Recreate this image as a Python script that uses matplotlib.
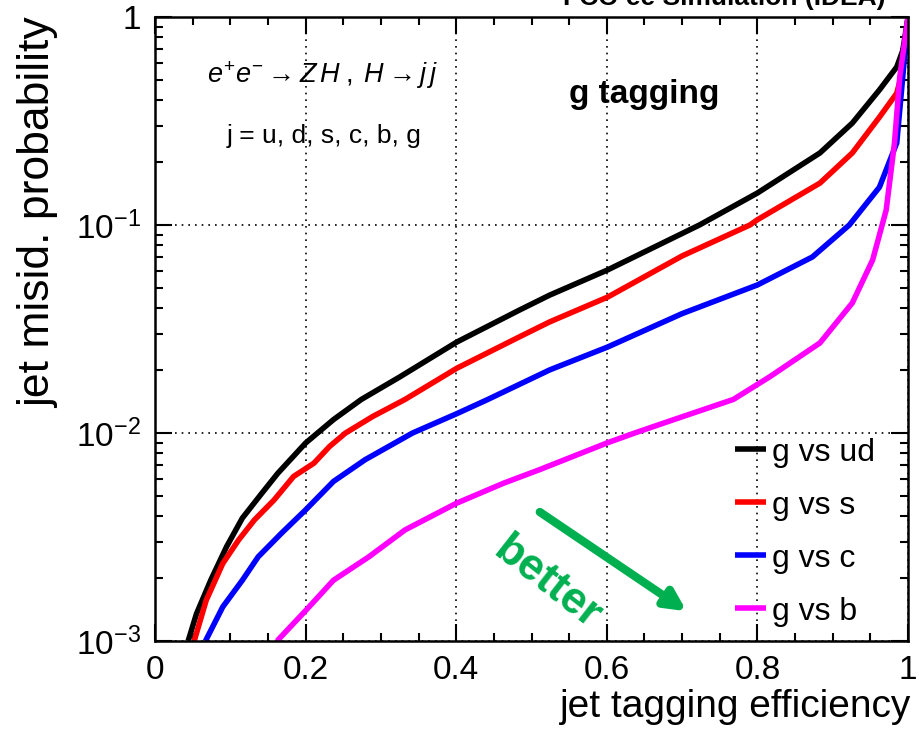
# g tagging ROC curves (jet misid. probability vs jet tagging efficiency)
import matplotlib
matplotlib.use('Agg')
import matplotlib.pyplot as plt
from matplotlib.ticker import MultipleLocator, LogLocator, NullFormatter

plt.rcParams['font.family'] = ['Liberation Sans', 'DejaVu Sans']
plt.rcParams['mathtext.fontset'] = 'custom'
plt.rcParams['mathtext.rm'] = 'Liberation Sans'
plt.rcParams['mathtext.it'] = 'Liberation Sans:italic'
plt.rcParams['mathtext.bf'] = 'Liberation Sans:bold'

# curves
eff_ud = [0.044, 0.055, 0.074, 0.095, 0.116, 0.142, 0.163, 0.200, 0.237, 0.274, 0.325,
          0.401, 0.484, 0.524, 0.601, 0.723, 0.800, 0.883, 0.926, 0.962, 0.985, 0.993, 1.0]
mis_ud = [0.001, 0.00135, 0.00196, 0.00284, 0.00390, 0.00514, 0.0064, 0.00895, 0.0116, 0.0145, 0.0186,
          0.0274, 0.039, 0.046, 0.0608, 0.100, 0.1425, 0.222, 0.309, 0.446, 0.575, 0.69, 1.0]

eff_s = [0.052, 0.068, 0.090, 0.111, 0.132, 0.158, 0.184, 0.211, 0.232, 0.253, 0.289, 0.332,
         0.401, 0.484, 0.524, 0.601, 0.700, 0.790, 0.800, 0.883, 0.926, 0.962, 0.985, 0.993, 1.0]
mis_s = [0.001, 0.00157, 0.00236, 0.00306, 0.00382, 0.00476, 0.00618, 0.00716, 0.00863, 0.0100, 0.0120, 0.0145,
         0.0205, 0.029, 0.0342, 0.045, 0.071, 0.100, 0.106, 0.159, 0.222, 0.33, 0.43, 0.556, 1.0]

eff_c = [0.067, 0.090, 0.116, 0.137, 0.168, 0.200, 0.237, 0.279, 0.342, 0.401, 0.442,
         0.524, 0.601, 0.700, 0.800, 0.873, 0.922, 0.962, 0.985, 0.991, 1.0]
mis_c = [0.001, 0.00146, 0.00196, 0.00254, 0.0033, 0.00427, 0.00585, 0.00744, 0.0100, 0.0124, 0.0145,
         0.0201, 0.0259, 0.0375, 0.0515, 0.0702, 0.100, 0.152, 0.248, 0.43, 1.0]

eff_b = [0.162, 0.200, 0.237, 0.284, 0.332, 0.400, 0.463, 0.510, 0.600, 0.637, 0.689, 0.768,
         0.816, 0.883, 0.926, 0.953, 0.971, 0.982, 0.989, 1.0]
mis_b = [0.001, 0.0014, 0.00196, 0.00254, 0.00342, 0.00459, 0.00574, 0.00665, 0.00895, 0.0100, 0.0116, 0.0145,
         0.0186, 0.0271, 0.0422, 0.0679, 0.118, 0.248, 0.515, 1.0]

labels = ['g vs ud', 'g vs s', 'g vs c', 'g vs b']
colors = ['black', '#ff0000', '#0000ff', '#ff00ff']

x_ticks = [0, 0.2, 0.4, 0.6, 0.8, 1]
x_tick_labels = ['0', '0.2', '0.4', '0.6', '0.8', '1']
y_ticks = [1e-3, 1e-2, 1e-1, 1]
y_tick_labels = [r'$10^{-3}$', r'$10^{-2}$', r'$10^{-1}$', '1']

fig = plt.figure(figsize=(9.2, 7.32), dpi=100)
ax = fig.add_axes([0.1685, 0.1243, 0.8185, 0.8525])

for xs, ys, lab, col in zip([eff_ud, eff_s, eff_c, eff_b], [mis_ud, mis_s, mis_c, mis_b], labels, colors):
    ax.plot(xs, ys, color=col, lw=4, label=lab, solid_capstyle='butt', solid_joinstyle='round')

ax.set_yscale('log')
ax.set_xlim(0, 1)
ax.set_ylim(1e-3, 1)

ax.set_xticks(x_ticks)
ax.set_xticklabels(x_tick_labels)
ax.set_yticks(y_ticks)
ax.set_yticklabels(y_tick_labels)
ax.xaxis.set_minor_locator(MultipleLocator(0.05))
ax.yaxis.set_minor_locator(LogLocator(base=10, subs=range(2, 10)))
ax.yaxis.set_minor_formatter(NullFormatter())

ax.tick_params(which='both', direction='in', top=True, right=True, width=1.5)
ax.tick_params(which='major', length=12, labelsize=24)
ax.tick_params(which='minor', length=6)
ax.tick_params(axis='x', which='major', pad=10)
ax.tick_params(axis='y', which='major', pad=10)
for sp in ax.spines.values():
    sp.set_linewidth(1.8)

ax.grid(True, which='major', ls=(0, (1, 3)), color='black', lw=1.2)

ax.set_xlabel('jet tagging efficiency', fontsize=28, ha='right', x=1.005, labelpad=2)
ax.set_ylabel('jet misid. probability', fontsize=32, ha='right', y=1.0, labelpad=12)

fig.text(0.962, 0.993, 'FCC-ee Simulation (IDEA)', fontsize=19, fontweight='bold',
         ha='right', va='baseline')

ax.text(0.222, 0.907, r'$e^{+}e^{-} \rightarrow Z\,H\;,\;H \rightarrow j\,j$', transform=ax.transAxes,
        fontsize=19.5, ha='center', va='center')
ax.text(0.224, 0.81, 'j = u, d, s, c, b, g', transform=ax.transAxes,
        fontsize=19, ha='center', va='center')
ax.text(0.65, 0.875, 'g tagging', transform=ax.transAxes,
        fontsize=24, fontweight='bold', ha='center', va='center')

ax.annotate('', xy=(0.706, 0.00139), xytext=(0.511, 0.00417),
            arrowprops=dict(arrowstyle='-|>,head_length=1.2,head_width=0.6', color='#00b050', lw=6,
                            shrinkA=0, shrinkB=0))
ax.text(0.52, 0.0019, 'better', fontsize=32, fontweight='bold', color='#00b050',
        rotation=-38, ha='center', va='center')

leg = ax.legend(loc='lower right', bbox_to_anchor=(0.975, 0.0), frameon=False, fontsize=23,
                handlelength=0.97, handletextpad=0.19, labelspacing=0.72, borderaxespad=0.05)

fig.savefig('out.png', dpi=100)
